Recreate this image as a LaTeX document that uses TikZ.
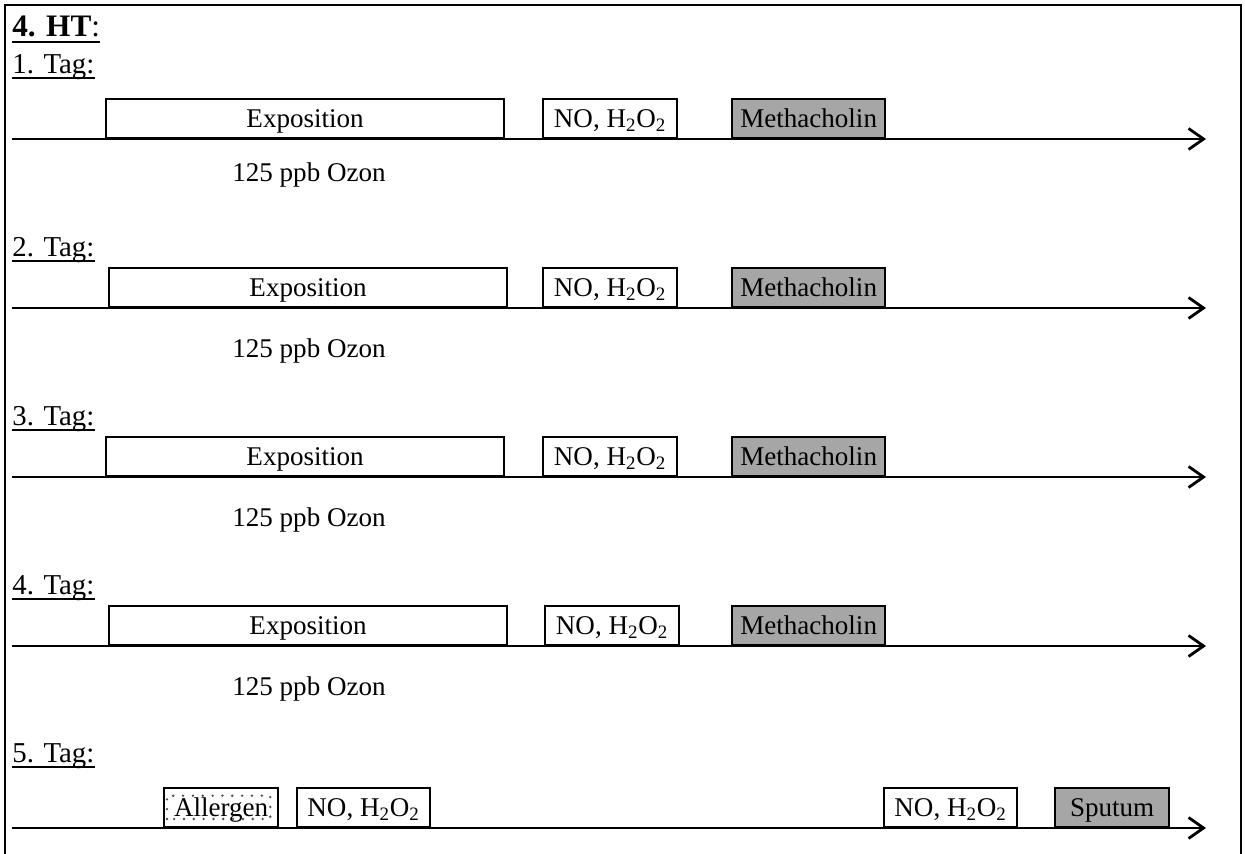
\documentclass[tikz,border=0pt]{standalone}
\usepackage{fontspec}
\setmainfont{Liberation Serif}
\usetikzlibrary{arrows.meta}
\definecolor{grau}{RGB}{166,166,166}

\tikzset{
  box/.style={draw, line width=1.3pt, fill=white, inner sep=0pt, minimum height=0.78cm,
    text height=13pt, text depth=2.2pt, anchor=south west},
  greybox/.style={box, fill=grau},
  timeline/.style={line width=1.6pt, -{Straight Barb[length=0.3cm,width=0.42cm]}},
  txt/.style={inner sep=0pt, anchor=base west},
  tagtxt/.style={txt, font=\fontsize{16.4}{19}\selectfont},
  uline/.style={line width=1.1pt},
  frame/.style={line width=1.5pt},
  dotframe/.style={black!70, line width=1.5pt, line cap=round, dash pattern=on 0pt off 5.6pt},
}

\begin{document}
\begin{tikzpicture}[x=0.02cm, y=-0.02cm, font=\fontsize{15.4}{18}\selectfont]
\useasboundingbox (0,0) rectangle (1245,854);
\draw [frame] (5,854) -- (5,5) -- (1241,5) -- (1241,854);

\node [txt, font=\fontsize{17.8}{21}\selectfont] (titel) at (12,37) {\textbf{4. HT}:};
\draw [uline] ([yshift=-2.8pt]titel.base west) -- ([yshift=-2.8pt]titel.base east);

% 1. Tag
\node [tagtxt] (tagA) at (12,74) {1. Tag:};
\draw [uline] ([yshift=-2.5pt]tagA.base west) -- ([yshift=-2.5pt]tagA.base east);
\coordinate (startA) at (12,139);
\coordinate (endA) at (1206,139);
\draw [timeline] (startA) -- (endA);
\node [box, minimum width=7.96cm] (expoA) at (105,139) {Exposition};
\node [box, minimum width=2.68cm] (noA) at (542,139) {NO, H\textsubscript{2}O\textsubscript{2}};
\node [greybox, minimum width=3.06cm] (methA) at (731,139) {Methacholin};
\node [txt] (ozonA) at (232,182) {125 ppb Ozon};

% 2. Tag
\node [tagtxt] (tagB) at (12,257) {2. Tag:};
\draw [uline] ([yshift=-2.5pt]tagB.base west) -- ([yshift=-2.5pt]tagB.base east);
\coordinate (startB) at (12,308);
\coordinate (endB) at (1206,308);
\draw [timeline] (startB) -- (endB);
\node [box, minimum width=7.96cm] (expoB) at (108,308) {Exposition};
\node [box, minimum width=2.68cm] (noB) at (542,308) {NO, H\textsubscript{2}O\textsubscript{2}};
\node [greybox, minimum width=3.06cm] (methB) at (731,308) {Methacholin};
\node [txt] (ozonB) at (232,358) {125 ppb Ozon};

% 3. Tag
\node [tagtxt] (tagC) at (12,426) {3. Tag:};
\draw [uline] ([yshift=-2.5pt]tagC.base west) -- ([yshift=-2.5pt]tagC.base east);
\coordinate (startC) at (12,477);
\coordinate (endC) at (1206,477);
\draw [timeline] (startC) -- (endC);
\node [box, minimum width=7.96cm] (expoC) at (105,477) {Exposition};
\node [box, minimum width=2.68cm] (noC) at (542,477) {NO, H\textsubscript{2}O\textsubscript{2}};
\node [greybox, minimum width=3.06cm] (methC) at (731,477) {Methacholin};
\node [txt] (ozonC) at (232,527) {125 ppb Ozon};

% 4. Tag
\node [tagtxt] (tagD) at (12,595) {4. Tag:};
\draw [uline] ([yshift=-2.5pt]tagD.base west) -- ([yshift=-2.5pt]tagD.base east);
\coordinate (startD) at (12,646);
\coordinate (endD) at (1206,646);
\draw [timeline] (startD) -- (endD);
\node [box, minimum width=7.96cm] (expoD) at (108,646) {Exposition};
\node [box, minimum width=2.68cm] (noD) at (544,646) {NO, H\textsubscript{2}O\textsubscript{2}};
\node [greybox, minimum width=3.06cm] (methD) at (731,646) {Methacholin};
\node [txt] (ozonD) at (232,696) {125 ppb Ozon};

% 5. Tag
\node [tagtxt] (tagE) at (12,763) {5. Tag:};
\draw [uline] ([yshift=-2.5pt]tagE.base west) -- ([yshift=-2.5pt]tagE.base east);
\coordinate (startE) at (12,828);
\coordinate (endE) at (1206,828);
\draw [timeline] (startE) -- (endE);
\node [box, minimum width=2.28cm] (allergen) at (163,828) {Allergen};
\draw [dotframe] ([shift={(4,-9)}]allergen.south west) rectangle ([shift={(-9,9)}]allergen.north east);
\node [box, minimum width=2.66cm] (noE) at (296,828) {NO, H\textsubscript{2}O\textsubscript{2}};
\node [box, minimum width=2.66cm] (noF) at (883,828) {NO, H\textsubscript{2}O\textsubscript{2}};
\node [greybox, minimum width=2.28cm] (sputum) at (1054,828) {Sputum};

\end{tikzpicture}
\end{document}
